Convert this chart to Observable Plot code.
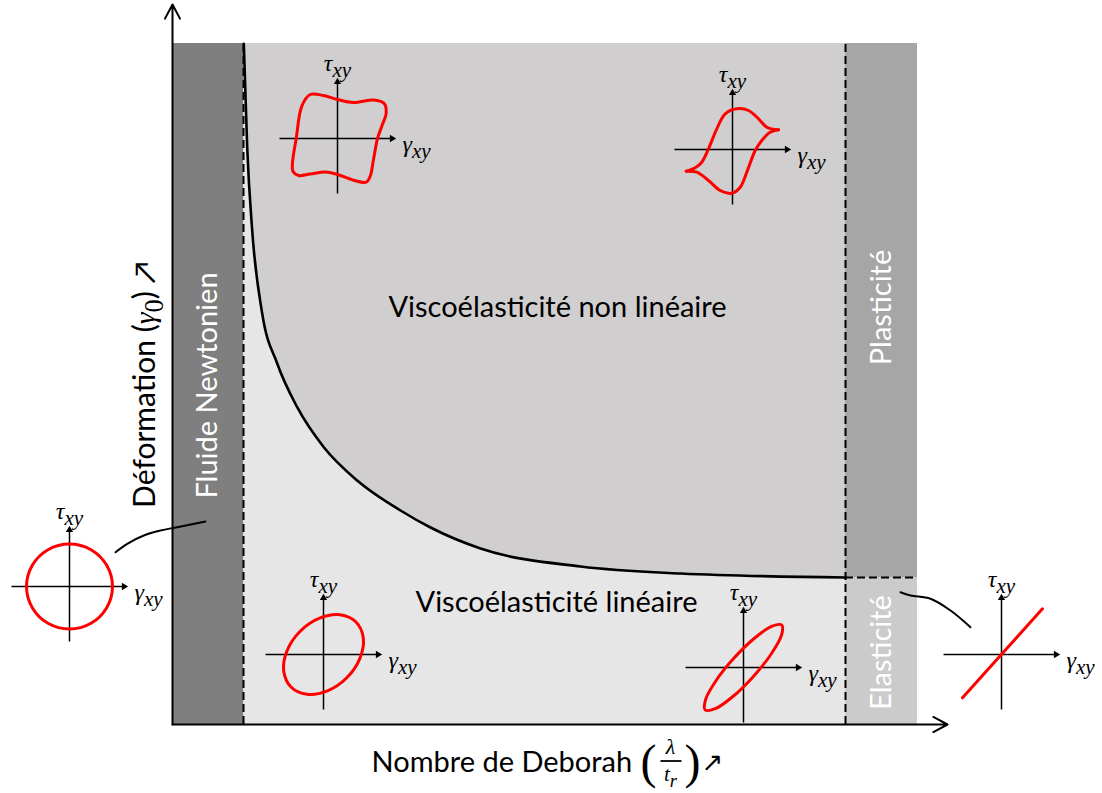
<!DOCTYPE html>
<html><head><meta charset="utf-8">
<script src="https://cdn.jsdelivr.net/npm/d3@7"></script>
<script src="https://cdn.jsdelivr.net/npm/@observablehq/plot@0.6"></script>
<style>html,body{margin:0;padding:0;background:#fff;overflow:hidden}#chart svg{display:block}</style>
</head><body><div id="chart"></div>
<script>
// ---------- data (Deborah number on x, strain amplitude on y; arbitrary units) ----------
const deMax = 74.5, strainMax = 68.1;
const newtonLimit = 7.1, elasticLimit = 67.3, elasticStrain = 14.7;

// linear / non-linear boundary curve
const deborah = [7.13, 7.47, 7.97, 8.97, 10.47, 12.47, 15.13, 18.47, 22.8, 25.8, 30.8, 40.8, 50.8, 67.3];
const strain  = [68.07, 57.73, 49.4, 41.1, 36.1, 31.73, 27.73, 24.4, 21.4, 19.7, 17.6, 15.8, 15.1, 14.7];

// regions
const regionName = ["nonlinear", "newtonian", "plastic", "elastic"];
const regionDe0 = [newtonLimit, 0, elasticLimit, elasticLimit];
const regionDe1 = [elasticLimit, newtonLimit, deMax, deMax];
const regionS0 = [0, 0, elasticStrain, 0];
const regionS1 = [strainMax, strainMax, strainMax, elasticStrain];
const regionColor = {nonlinear: "#d0cece", newtonian: "#7f7f7f", plastic: "#a6a6a6", elastic: "#cbcbcb"};
const linearColor = "#e7e6e6";

// region labels
const regionLabels = ["Viscoélasticité non linéaire", "Viscoélasticité linéaire", "Fluide Newtonien", "Plasticité", "Elasticité"];
const regionLabelDe = [38.5, 38.4, 3.5, 70.9, 70.9];
const regionLabelStrain = [41.7, 12.2, 33.9, 41.7, 7.2];
const regionLabelRotate = [0, 0, -90, -90, -90];
const regionLabelColor = ["black", "black", "white", "white", "white"];

// Lissajous insets: origin of each small τ–γ diagram
const insetId = ["A", "B", "C", "D", "E", "F"];
const insetDe = [16.5, 56.0, -10.3, 15.1, 57.1, 82.9];
const insetStrain = [58.6, 57.5, 13.8, 7.0, 5.7, 7.0];
const insetAxisExtent = {left: -5.8, right: 5.8, bottom: -5.5, top: 6.0};

// inset curves, local coordinates (reference pixels around the inset origin)
const shapeA = [[-27.3,44],[-14,43],[0,39],[16,36],[36,38.5],[46.7,35],[48.7,25.7],[44.3,12.3],[40,0],[36,-21],[32.7,-37.7],[28.7,-43.7],[16,-41.7],[0,-36],[-12,-33.5],[-27.3,-35.5],[-39,-37],[-44.5,-33],[-45,-24.3],[-41.3,0],[-35.7,32.3]];
const shapeBUpper = [[-46.3,-21.7],[-37.3,-18.3],[-30.7,-12.7],[-24,0.7],[-15.7,20.7],[-7.3,35.7],[4.3,40.7],[16,39],[26,30.7],[34.3,22.3],[46,19.7]];
const shapeBLower = [[46,19.7],[37.7,17.3],[29.3,9],[22.7,-1],[14.3,-22.7],[7.7,-37.7],[-0.7,-43.7],[-12.3,-41],[-24,-31],[-35.7,-22.7],[-46.3,-21.7]];
const shapeC = [[0,42.5],[21.5,36.8],[37.2,21.2],[43,0],[37.2,-21.2],[21.5,-36.8],[0,-42.5],[-21.5,-36.8],[-37.2,-21.2],[-43,0],[-37.2,21.2],[-21.5,36.8]];
const shapeD = [[32.5,32.5],[16.5,39.8],[-3.9,36.4],[-23.3,23.3],[-36.4,3.9],[-39.8,-16.5],[-32.5,-32.5],[-16.5,-39.8],[3.9,-36.4],[23.3,-23.3],[36.4,-3.9],[39.8,16.5]];
const shapeE = [[38.3,42.5],[28.2,41.2],[10.6,29.0],[-9.9,8.9],[-27.7,-13.5],[-38.0,-32.3],[-38.3,-42.5],[-28.2,-41.2],[-10.6,-29.0],[9.9,-8.9],[27.7,13.5],[38.0,32.3]];
const shapeF = [[-39,-43.3],[41,45.7]];

// connector lines
const connLeftDe = [-5.7, -4.53, -2.87, -1.2, 0.47, 3.3];
const connLeftStrain = [17.23, 18.07, 18.9, 19.4, 19.73, 20.3];
const connRightDe = [72.8, 73.8, 75.8, 77.8, 79.8];
const connRightStrain = [13.23, 12.9, 12.57, 11.4, 9.73];

// axis titles
const xTitle = "Nombre de Deborah";
const yTitle = "Déformation (γ_0) ↗";
const tauLabel = "τ_xy", gammaLabel = "γ_xy";

// ---------- build tables ----------
const localScale = 0.1;
const boundary = deborah.map((de, i) => ({de, s: strain[i]}));
const regions = regionName.map((name, i) => ({name, de0: regionDe0[i], de1: regionDe1[i], s0: regionS0[i], s1: regionS1[i]}));
const rlabels = regionLabels.map((text, i) => ({text, de: regionLabelDe[i], s: regionLabelStrain[i], rotate: regionLabelRotate[i], color: regionLabelColor[i]}));
const insets = insetId.map((id, i) => ({id, de: insetDe[i], s: insetStrain[i]}));
const origin = Object.fromEntries(insets.map(d => [d.id, d]));
function place(id, pts, key) {
  const o = origin[id];
  return pts.map(([dx, dy]) => ({key, de: o.de + dx * localScale, s: o.s + dy * localScale}));
}
const closedShapes = [...place("A", shapeA, "A"), ...place("C", shapeC, "C"), ...place("D", shapeD, "D"), ...place("E", shapeE, "E")];
const openShapes = [...place("B", shapeBUpper, "B1"), ...place("B", shapeBLower, "B2"), ...place("F", shapeF, "F")];
const ax = insetAxisExtent;
const insetAxes = insets.flatMap(o => [
  {x1: o.de + ax.left, y1: o.s, x2: o.de + ax.right - 0.3, y2: o.s},
  {x1: o.de, y1: o.s + ax.bottom, x2: o.de, y2: o.s + ax.top - 0.3}
]);
const insetHeads = insets.flatMap(o => [
  {de: o.de + ax.right - 0.35, s: o.s, rot: 90},
  {de: o.de, s: o.s + ax.top - 0.35, rot: 0}
]);
const connectors = [
  ...connLeftDe.map((de, i) => ({key: "L", de, s: connLeftStrain[i]})),
  ...connRightDe.map((de, i) => ({key: "R", de, s: connRightStrain[i]}))
];
const mainAxes = [{x1: 0, y1: 0, x2: 0, y2: 72.0}, {x1: 0, y1: 0, x2: 77.5, y2: 0}];

const sans = "Lato, 'Open Sans', sans-serif";
const serif = "'Liberation Serif', 'DejaVu Serif', serif";
const dashed = {stroke: "black", strokeWidth: 2, strokeDasharray: "8,4"};

const chart = Plot.plot({
  width: 1102, height: 793,
  marginLeft: 172, marginRight: 185, marginTop: 43, marginBottom: 69,
  x: {domain: [0, deMax], axis: null},
  y: {domain: [0, strainMax], axis: null},
  color: {type: "identity"},
  style: {background: "white", overflow: "visible"},
  marks: [
    Plot.rect(regions.filter(d => d.name === "nonlinear"), {x1: "de0", x2: "de1", y1: "s0", y2: "s1", fill: d => regionColor[d.name]}),
    Plot.areaY(boundary, {x: "de", y1: 0, y2: "s", curve: "monotone-x", fill: linearColor}),
    Plot.rect(regions.filter(d => d.name !== "nonlinear"), {x1: "de0", x2: "de1", y1: "s0", y2: "s1", fill: d => regionColor[d.name]}),
    Plot.line(boundary, {x: "de", y: "s", curve: "monotone-x", stroke: "black", strokeWidth: 2.6}),
    Plot.ruleX([newtonLimit, elasticLimit], {y1: 0, y2: strainMax, ...dashed}),
    Plot.ruleY([elasticStrain], {x1: elasticLimit, x2: deMax, ...dashed}),
    Plot.arrow(mainAxes, {x1: "x1", y1: "y1", x2: "x2", y2: "y2", stroke: "black", strokeWidth: 2, headLength: 12, headAngle: 56}),
    Plot.text(rlabels, {x: "de", y: "s", text: "text", rotate: "rotate", fill: "color", fontSize: 29, fontFamily: sans}),
    // insets
    Plot.link(insetAxes, {x1: "x1", y1: "y1", x2: "x2", y2: "y2", stroke: "black", strokeWidth: 1.5}),
    Plot.dot(insetHeads, {x: "de", y: "s", rotate: "rot", symbol: "triangle", r: 2.7, fill: "black", stroke: null}),
    Plot.line(closedShapes, {x: "de", y: "s", z: "key", curve: "catmull-rom-closed", stroke: "#ff0000", strokeWidth: 3}),
    Plot.line(openShapes, {x: "de", y: "s", z: "key", curve: "catmull-rom", stroke: "#ff0000", strokeWidth: 3}),
    Plot.text(insets, {x: "de", y: d => d.s + 7.5, text: () => tauLabel, fontSize: 24, fontFamily: serif, fontStyle: "italic"}),
    Plot.text(insets, {x: d => d.de + 6.5, y: d => d.s - 0.6, text: () => gammaLabel, textAnchor: "start", fontSize: 24, fontFamily: serif, fontStyle: "italic"}),
    Plot.line(connectors, {x: "de", y: "s", z: "key", curve: "catmull-rom", stroke: "black", strokeWidth: 2}),
    // axis titles
    Plot.text([xTitle], {x: 19.9, y: -3.8, text: d => d, textAnchor: "start", fontSize: 29, fontFamily: sans}),
    Plot.text(["(", ")"], {x: (d, i) => [47.6, 52.0][i], y: -3.8, text: d => d, fontSize: 48, fontFamily: serif}),
    Plot.text(["λ"], {x: 49.8, y: -2.2, text: d => d, fontSize: 22, fontFamily: serif, fontStyle: "italic"}),
    Plot.text(["t_r"], {x: 49.8, y: -5.0, text: d => d, fontSize: 21, fontFamily: serif, fontStyle: "italic"}),
    Plot.link([0], {x1: 48.8, x2: 50.9, y1: -3.65, y2: -3.65, stroke: "black", strokeWidth: 1.8}),
    Plot.text(["↗"], {x: 54.0, y: -3.8, text: d => d, fontSize: 26, fontFamily: "'DejaVu Sans', sans-serif"}),
    Plot.text([yTitle], {x: -2.7, y: 34.0, text: d => d, rotate: -90, fontSize: 30, fontFamily: sans})
  ]
});
document.getElementById("chart").append(chart);

// rich text: subscripts after "_" and italic serif Greek letters
const NS = "http://www.w3.org/2000/svg";
chart.querySelectorAll("text").forEach(t => {
  const s = t.textContent;
  if (!/_|[α-ωΑ-Ω]/.test(s)) return;
  const cs = getComputedStyle(t);
  const fs = parseFloat(cs.fontSize) || 20;
  const isSerif = /Serif/.test(cs.fontFamily) && !/Sans/.test(cs.fontFamily.split(",")[0]);
  t.textContent = "";
  let shifted = 0;
  const parts = s.split(/(_[A-Za-z0-9]+)/);
  for (const p of parts) {
    if (!p) continue;
    if (p.startsWith("_")) {
      const ts = document.createElementNS(NS, "tspan");
      ts.textContent = p.slice(1);
      ts.setAttribute("font-size", (fs * 0.88).toFixed(1));
      ts.setAttribute("dy", (fs * 0.25).toFixed(1));
      if (!isSerif) ts.setAttribute("font-family", "'Liberation Serif', serif");
      t.append(ts);
      shifted = fs * 0.25;
    } else {
      for (const c of p.split(/([α-ωΑ-Ω])/)) {
        if (!c) continue;
        const ts = document.createElementNS(NS, "tspan");
        ts.textContent = c;
        if (/[α-ωΑ-Ω]/.test(c) && !isSerif) {
          ts.setAttribute("font-family", "'Liberation Serif', serif");
          ts.setAttribute("font-style", "italic");
        }
        if (shifted) { ts.setAttribute("dy", (-shifted).toFixed(1)); shifted = 0; }
        t.append(ts);
      }
    }
  }
});
</script></body></html>
